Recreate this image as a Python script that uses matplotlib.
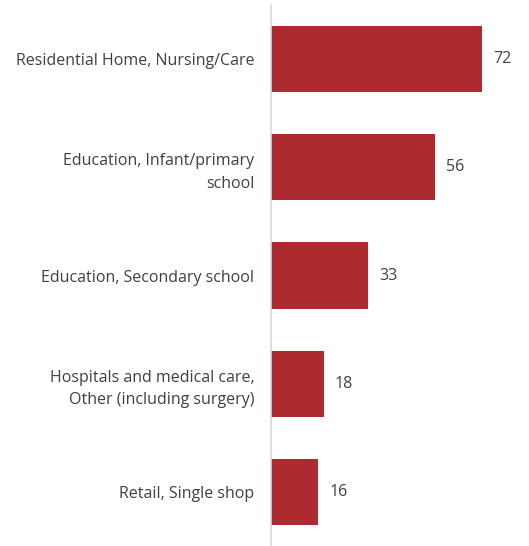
import matplotlib
matplotlib.use("Agg")
import matplotlib.pyplot as plt

categories = [
    "Residential Home, Nursing/Care",
    "Education, Infant/primary\nschool",
    "Education, Secondary school",
    "Hospitals and medical care,\nOther (including surgery)",
    "Retail, Single shop",
]
values = [72, 56, 33, 18, 16]

bar_color = "#AD2A2E"
text_color = "#404040"

plt.rcParams["font.family"] = ["Open Sans", "DejaVu Sans"]

fig = plt.figure(figsize=(5.29, 5.46), dpi=100)
ax = fig.add_axes([271 / 529, 0, 258 / 529, 541 / 546])

pos = list(range(len(categories)))
bars = ax.barh(pos, values, height=0.61, color=bar_color)
ax.set_ylim(len(categories) - 0.5, -0.5)
ax.set_xlim(0, 88)

for b, v in zip(bars, values):
    ax.text(b.get_width() + 3.8, b.get_y() + b.get_height() / 2, str(v),
            va="center", ha="left", fontsize=11.5, color=text_color)

ax.set_yticks(pos)
ax.set_yticklabels(categories, fontsize=11.5, color=text_color, linespacing=1.55)
ax.tick_params(axis="y", length=0, pad=12)
ax.set_xticks([])

for s in ["top", "right", "bottom"]:
    ax.spines[s].set_visible(False)
ax.spines["left"].set_color("#D9D9D9")
ax.spines["left"].set_linewidth(1.2)

fig.savefig("out.png", dpi=100)
